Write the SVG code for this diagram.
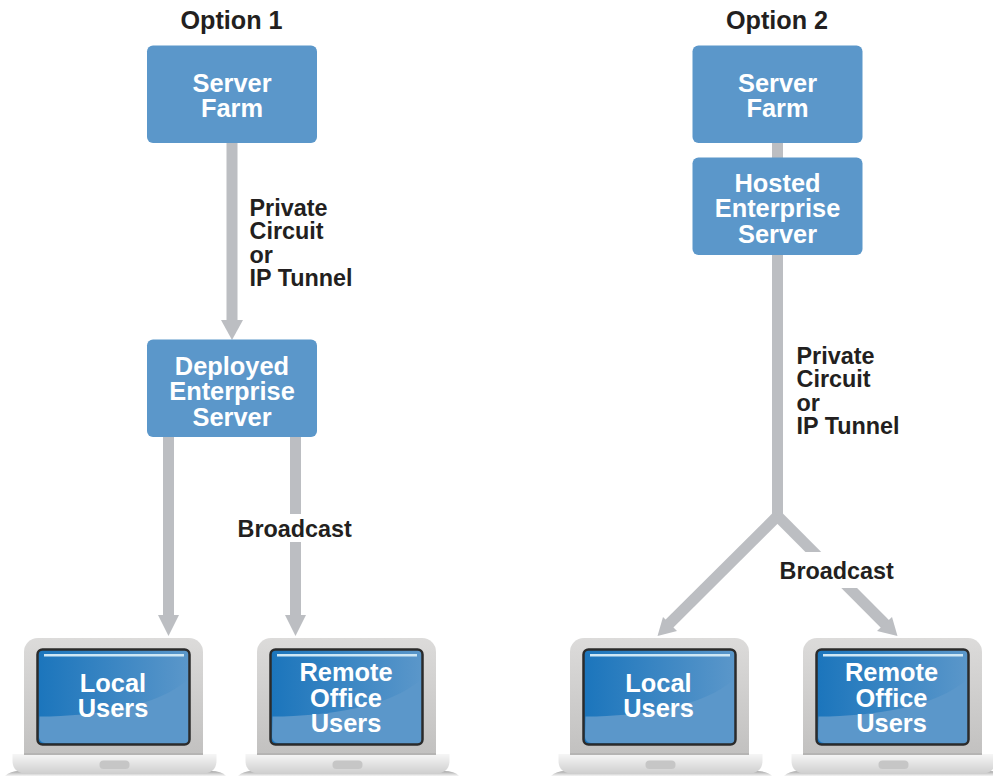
<svg xmlns="http://www.w3.org/2000/svg" xmlns:xlink="http://www.w3.org/1999/xlink" width="993" height="776" viewBox="0 0 993 776">
<style>
text{font-family:"Liberation Sans",Arial,sans-serif;font-weight:700}
.w{fill:#fff;font-size:25.400px;text-anchor:middle}
.k{fill:#231f20;font-size:23.400px}
.h{fill:#231f20;font-size:25.200px;text-anchor:middle}
.box{fill:#5b97ca}
.c{stroke:#bcbec2;stroke-width:11;fill:none}
.a{fill:#bcbec2}
</style>
<defs>
<linearGradient id="body" x1="0" y1="0" x2="0" y2="1"><stop offset="0" stop-color="#dcdbda"/><stop offset="1" stop-color="#c2c1c0"/></linearGradient>
<linearGradient id="base" x1="0" y1="0" x2="0" y2="1"><stop offset="0" stop-color="#f6f6f6"/><stop offset="1" stop-color="#cfcfcf"/></linearGradient>
<linearGradient id="scr" x1="0" y1="0" x2="1" y2="0"><stop offset="0" stop-color="#1b75bc"/><stop offset="1" stop-color="#5b97ca"/></linearGradient>
<linearGradient id="shadow" x1="0" y1="0" x2="0" y2="1"><stop offset="0" stop-color="#8a8a8a" stop-opacity=".8"/><stop offset="1" stop-color="#999" stop-opacity=".1"/></linearGradient>
<g id="laptop">
<path d="M5 776Q10 771 20 771H210Q222 771 226 776Z" fill="url(#shadow)"/>
<path d="M24 754V652a14 14 0 0 1 14-14H189a14 14 0 0 1 14 14V754Z" fill="url(#body)"/>
<path d="M12.500 754H216.500V761C216.500 769 211 773.500 203 773.500H26C18 773.500 12.500 769 12.500 761Z" fill="url(#base)"/>
<rect x="24" y="753" width="179" height="2" fill="#b5b4b3"/>
<rect x="99.500" y="760.500" width="30" height="8.500" rx="4" fill="#c6c6c6"/>
<rect x="37.500" y="649.500" width="152" height="95" rx="5" fill="url(#scr)" stroke="#2b2b2b" stroke-width="2.500"/>
<path d="M39.500 716.500C95 716.500 160 706 188 679V737a6 6 0 0 1-6 6H45a6 6 0 0 1-6-6Z" fill="#5b97ca"/>
<rect x="44" y="654" width="140" height="2.500" fill="#cfe8f5"/>
</g>
</defs>
<rect width="993" height="776" fill="#fff"/>
<text class="h" x="231.500" y="28.500">Option 1</text>
<text class="h" x="777" y="28.500">Option 2</text>
<g id="connectors">
<path class="c" d="M232 142V322"/><path class="a" d="M221 320H243L232 340Z"/>
<path class="c" d="M168.500 436V618"/><path class="a" d="M158 615H179L168.500 636Z"/>
<path class="c" d="M295.500 436V618"/><path class="a" d="M285 615H306L295.500 636Z"/>
<path class="c" d="M777.500 142V158"/>
<path class="c" d="M777.500 254V516"/>
<path class="c" d="M777.500 516L668 625"/><path class="a" d="M657.500 636L663 617L677 631Z"/>
<path class="c" d="M777.500 516L886 625"/><path class="a" d="M897.500 636L892 617L877 631Z"/>
<rect x="232" y="514" width="126" height="28" fill="#fff"/>
<rect x="775" y="552" width="124" height="36" fill="#fff"/>
</g>
<g id="n1"><rect class="box" x="147" y="45.500" width="170" height="97.500" rx="6"/><text class="w" x="232" y="91.500">Server</text><text class="w" x="232" y="116.500">Farm</text></g>
<g id="n2"><rect class="box" x="147" y="339.500" width="170" height="97.500" rx="6"/><text class="w" x="232" y="374.500">Deployed</text><text class="w" x="232" y="399.500">Enterprise</text><text class="w" x="232" y="425.500">Server</text></g>
<g id="n3"><rect class="box" x="692.500" y="45.500" width="170" height="97.500" rx="6"/><text class="w" x="777.500" y="91.500">Server</text><text class="w" x="777.500" y="116.500">Farm</text></g>
<g id="n4"><rect class="box" x="692.500" y="157.500" width="170" height="97.500" rx="6"/><text class="w" x="777.500" y="191.500">Hosted</text><text class="w" x="777.500" y="216.500">Enterprise</text><text class="w" x="777.500" y="242.500">Server</text></g>
<g id="l1"><use xlink:href="#laptop" href="#laptop"/><text class="w" x="113" y="691.500">Local</text><text class="w" x="113" y="716.500">Users</text></g>
<g id="l2"><use xlink:href="#laptop" href="#laptop" x="233"/><text class="w" x="346" y="680.500">Remote</text><text class="w" x="346" y="706.500">Office</text><text class="w" x="346" y="731.500">Users</text></g>
<g id="l3"><use xlink:href="#laptop" href="#laptop" x="546"/><text class="w" x="658.500" y="691.500">Local</text><text class="w" x="658.500" y="716.500">Users</text></g>
<g id="l4"><use xlink:href="#laptop" href="#laptop" x="779"/><text class="w" x="891.500" y="680.500">Remote</text><text class="w" x="891.500" y="706.500">Office</text><text class="w" x="891.500" y="731.500">Users</text></g>
<g id="labels">
<text class="k" x="249.500" y="215.500">Private</text><text class="k" x="249.500" y="238.500">Circuit</text><text class="k" x="249.500" y="262.500">or</text><text class="k" x="249.500" y="285.500">IP Tunnel</text>
<text class="k" x="796.500" y="363.500">Private</text><text class="k" x="796.500" y="386.500">Circuit</text><text class="k" x="796.500" y="410.500">or</text><text class="k" x="796.500" y="433.500">IP Tunnel</text>
<text class="k" x="237.500" y="536.500">Broadcast</text>
<text class="k" x="779.500" y="578.500">Broadcast</text>
</g>
</svg>
